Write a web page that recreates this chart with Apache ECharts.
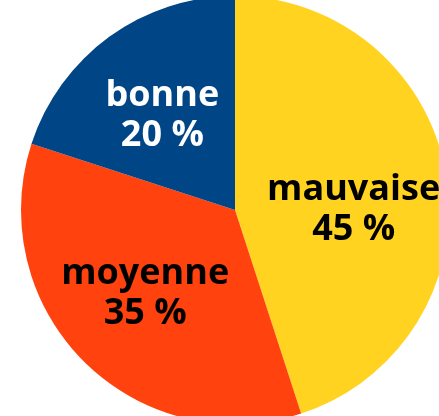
<!DOCTYPE html>
<html>
<head>
<meta charset="utf-8">
<script src="https://cdn.jsdelivr.net/npm/echarts@6/dist/echarts.min.js"></script>
<style>
  html, body { margin: 0; padding: 0; background: #fff; }
  #chart { width: 439px; height: 416px; }
</style>
</head>
<body>
<div id="chart"></div>
<script>
// qualité perçue
const categories = ["mauvaise", "moyenne", "bonne"];
const percents = [45, 35, 20];
const sliceColors = ["#ffd320", "#ff420e", "#004586"];
const labelColors = ["#000", "#000", "#fff"];
const labelOffsets = [[10, 17], [-12, 6], [-8, -5]];

const chart = echarts.init(document.getElementById("chart"));

const data = categories.map((name, i) => ({
  name: name,
  value: percents[i],
  itemStyle: { color: sliceColors[i] },
  label: { color: labelColors[i], offset: labelOffsets[i] },
}));

chart.setOption({
  animation: false,
  series: [
    {
      type: "pie",
      center: [235, 210],
      radius: 214,
      startAngle: 90,
      clockwise: true,
      silent: true,
      itemStyle: { borderWidth: 0 },
      label: {
        show: true,
        position: "inside",
        formatter: "{b}\n{c} %",
        fontFamily: "Open Sans",
        fontWeight: "bold",
        fontSize: 36,
        lineHeight: 40,
        align: "center",
      },
      labelLine: { show: false },
      data: data,
    },
  ],
});
</script>
</body>
</html>
